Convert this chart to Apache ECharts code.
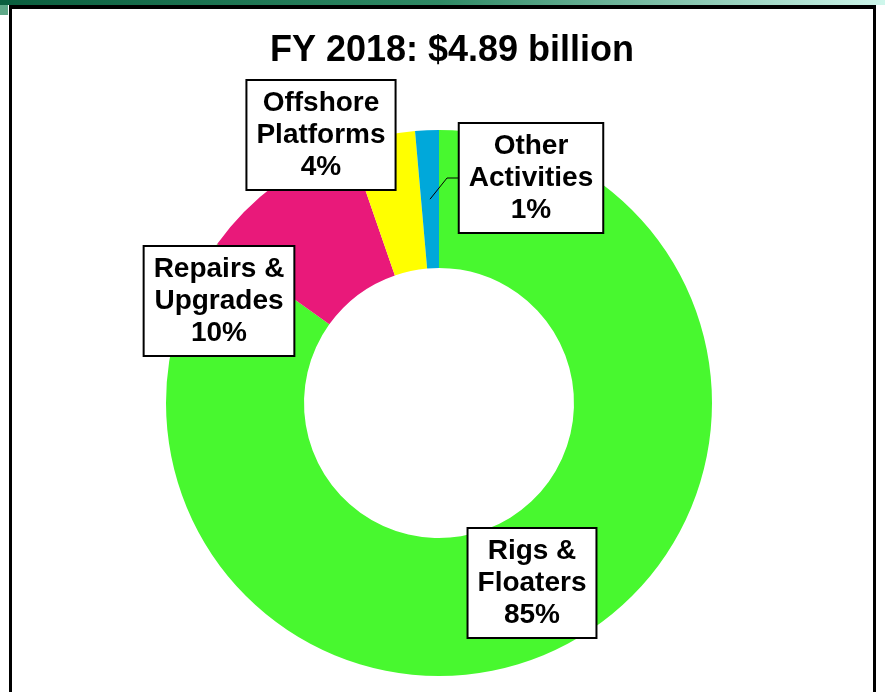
<!DOCTYPE html>
<html>
<head>
<meta charset="utf-8">
<script src="https://cdn.jsdelivr.net/npm/echarts@6/dist/echarts.min.js"></script>
<style>
html,body{margin:0;padding:0;background:#fff;}
#chart{width:885px;height:692px;}
</style>
</head>
<body>
<div id="chart"></div>
<script>
// ---- data ----
const titleText = 'FY 2018: $4.89 billion';
const categories = ['Rigs &\nFloaters', 'Repairs &\nUpgrades', 'Offshore\nPlatforms', 'Other\nActivities'];
const shares = [84.9, 9.8, 3.9, 1.4];
const colors = ['#48F82F', '#E9197A', '#FFFF00', '#00A8DA'];

// ---- layout / style ----
const CX = 439, CY = 403, R_IN = 135, R_OUT = 273;
const labelCenters = [[532, 583], [219, 301], [321, 135], [531, 178]];
const leaderIndex = 3;
const leaderBoxLeft = 458;

const chart = echarts.init(document.getElementById('chart'), null, {renderer: 'canvas'});

const total = shares.reduce((a, b) => a + b, 0);
function midAngleOf(i) {
  let before = 0;
  for (let k = 0; k < i; k++) before += shares[k];
  return (before + shares[i] / 2) / total * 2 * Math.PI; // clockwise from top
}

// leader line for the small slice: from the middle of the ring to the label box
const la = midAngleOf(leaderIndex);
const rm = (R_IN + R_OUT) / 2;
const lsx = CX + rm * Math.sin(la);
const lsy = CY - rm * Math.cos(la);
const ly = labelCenters[leaderIndex][1];

const data = categories.map((c, i) => ({
  name: c,
  value: shares[i],
  itemStyle: {color: colors[i]}
}));

chart.setOption({
  animation: false,
  title: {
    text: titleText,
    left: 452,
    textAlign: 'center',
    top: 33,
    padding: 0,
    textStyle: {fontFamily: 'Liberation Sans, Arial, sans-serif', fontWeight: 'bold', fontSize: 36, color: '#000'}
  },
  graphic: [
    {type: 'rect', shape: {x: 0, y: 0, width: 885, height: 5}, silent: true,
      style: {fill: new echarts.graphic.LinearGradient(0, 0, 1, 0, [
        {offset: 0, color: '#0A5E3E'}, {offset: 0.5, color: '#2F8A65'}, {offset: 1, color: '#CFF7EC'}])}},
    {type: 'rect', shape: {x: 0, y: 5, width: 8, height: 10}, silent: true, style: {fill: '#5FA888'}},
    {type: 'rect', shape: {x: 9, y: 5, width: 867, height: 4}, silent: true, style: {fill: '#000'}},
    {type: 'rect', shape: {x: 9, y: 5, width: 3, height: 687}, silent: true, style: {fill: '#000'}},
    {type: 'rect', shape: {x: 873, y: 5, width: 3, height: 687}, silent: true, style: {fill: '#000'}},
    {type: 'polyline', z: 100, silent: true,
      shape: {points: [[lsx, lsy], [leaderBoxLeft - 11, ly], [leaderBoxLeft, ly]]},
      style: {stroke: '#000', lineWidth: 1, fill: null}}
  ],
  series: [{
    type: 'pie',
    center: [CX, CY],
    radius: [R_IN, R_OUT],
    startAngle: 90,
    clockwise: true,
    avoidLabelOverlap: false,
    data: data,
    label: {
      show: true,
      position: 'outside',
      formatter: p => p.name + '\n' + Math.round(p.value) + '%',
      fontFamily: 'Liberation Sans, Arial, sans-serif',
      fontWeight: 'bold',
      fontSize: 28,
      lineHeight: 32,
      color: '#000',
      align: 'center',
      backgroundColor: '#fff',
      borderColor: '#000',
      borderWidth: 2,
      padding: [7, 9, 5, 9]
    },
    labelLine: {show: false},
    emphasis: {disabled: true},
    labelLayout: function (params) {
      const [x, y] = labelCenters[params.dataIndex];
      return {x: x, y: y, align: 'center', verticalAlign: 'middle'};
    }
  }]
});
</script>
</body>
</html>
